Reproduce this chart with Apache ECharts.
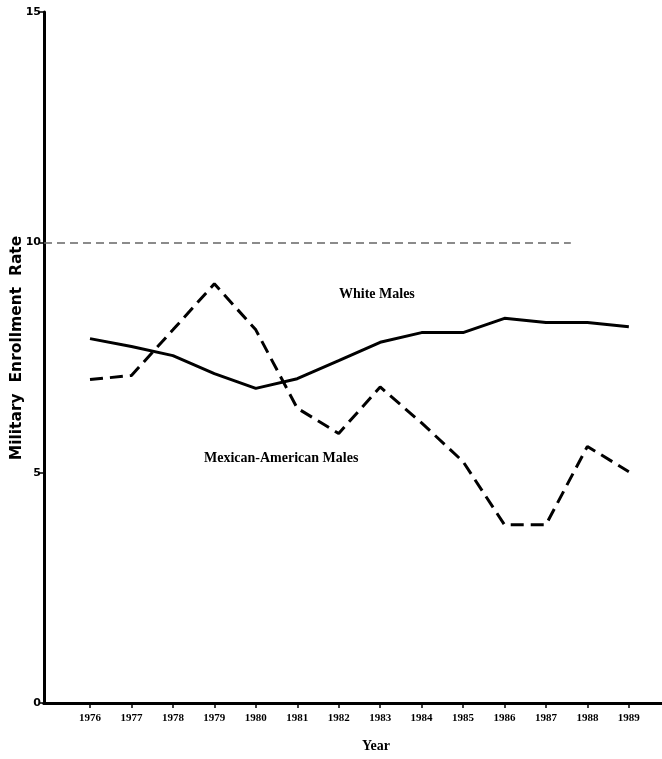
<!DOCTYPE html>
<html>
<head>
<meta charset="utf-8">
<script src="https://cdn.jsdelivr.net/npm/echarts@6/dist/echarts.min.js"></script>
<style>html,body{margin:0;padding:0;background:#fff}#c{width:662px;height:759px}</style>
</head>
<body>
<div id="c"></div>
<script>
const years = [1976,1977,1978,1979,1980,1981,1982,1983,1984,1985,1986,1987,1988,1989];
const whiteMales = [7.91,7.74,7.54,7.15,6.83,7.04,7.43,7.83,8.04,8.04,8.35,8.26,8.26,8.17];
const mexicanAmericanMales = [7.02,7.11,8.1,9.1,8.1,6.4,5.85,6.86,6.08,5.24,3.87,3.87,5.57,5.02];
const yTicks = [0,5,10,15];
const refLineValue = 10;

const chart = echarts.init(document.getElementById('c'), null, {renderer:'canvas'});
const pair = (xs, ys) => xs.map((x,i)=>[x, ys[i]]);
const serif = '"Liberation Serif", "DejaVu Serif", serif';
chart.setOption({
  animation:false,
  backgroundColor:'#fff',
  grid:{left:44, right:0, top:12, bottom:56, outerBoundsMode:'none', containLabel:false},
  xAxis:[{
    type:'value', min:1974.89, max:1989.8, position:'bottom',
    splitLine:{show:false},
    axisLine:{show:true, onZero:false, lineStyle:{color:'#000', width:3}},
    axisTick:{show:true, customValues:years, length:5, inside:false, lineStyle:{color:'#000', width:1.5}},
    axisLabel:{show:true, customValues:years, formatter:v=>String(v), color:'#000', fontFamily:serif, fontWeight:'bold', fontSize:11, margin:10}
  },{
    type:'value', min:1974.89, max:1989.8, position:'top',
    splitLine:{show:false},
    axisLine:{show:true, lineStyle:{color:'#000', width:3}},
    axisTick:{show:false}, axisLabel:{show:false}
  }],
  yAxis:{
    type:'value', min:0, max:15, interval:5,
    splitLine:{show:false},
    axisLine:{show:true, lineStyle:{color:'#000', width:3}},
    axisTick:{show:true, length:4, lineStyle:{color:'#000', width:1.5}},
    axisLabel:{color:'#000', fontFamily:'"DejaVu Sans", sans-serif', fontWeight:'bold', fontSize:11, margin:3,
      formatter:v=>yTicks.includes(v)?String(v):''}
  },
  series:[{
    name:'White Males', type:'line', data:pair(years, whiteMales),
    showSymbol:false, symbol:'none',
    lineStyle:{color:'#000', width:3},
    markLine:{
      silent:true, symbol:'none', label:{show:false},
      lineStyle:{color:'#666', width:1.5, type:[8,5]},
      data:[[{coord:[1974.89, refLineValue]},{coord:[1987.6, refLineValue]}]]
    }
  },{
    name:'Mexican-American Males', type:'line', data:pair(years, mexicanAmericanMales),
    showSymbol:false, symbol:'none',
    lineStyle:{color:'#000', width:3, type:[13,7]}
  }],
  graphic:[
    {type:'text', x:17, y:348, rotation:Math.PI/2,
      style:{text:'Military  Enrollment  Rate', fill:'#000', font:'bold 15.5px "DejaVu Sans", sans-serif', align:'center', verticalAlign:'middle'}},
    {type:'text', x:376, y:746,
      style:{text:'Year', fill:'#000', font:'bold 14px '+serif, align:'center', verticalAlign:'middle'}},
    {type:'text', left:339, top:287, style:{text:'White Males', fill:'#000', font:'bold 14px '+serif}},
    {type:'text', left:204, top:451, style:{text:'Mexican-American Males', fill:'#000', font:'bold 14px '+serif}}
  ]
});
</script>
</body>
</html>
